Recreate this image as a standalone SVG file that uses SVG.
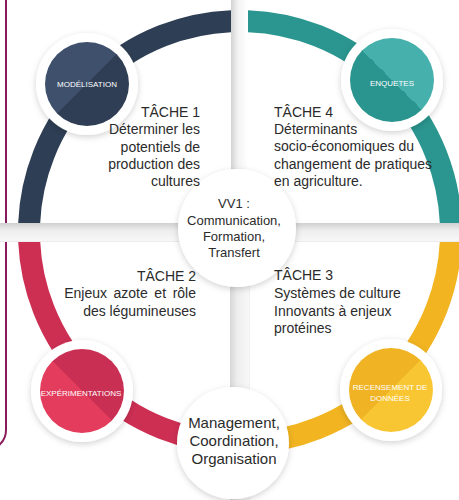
<svg xmlns="http://www.w3.org/2000/svg" width="459" height="500" viewBox="0 0 459 500">
<defs>
<style>
.ring{fill:none;stroke-width:22}
.halo{fill:#fff;filter:url(#sh)}
.lbl{font-family:"Liberation Sans",Arial,sans-serif;font-size:8px;fill:#fff;text-anchor:middle}
.txt{font-family:"Liberation Sans",Arial,sans-serif;font-size:14px;fill:#2b2b2b}
.ctr{font-family:"Liberation Sans",Arial,sans-serif;fill:#2b2b2b;text-anchor:middle}
</style>
<filter id="sh" x="-30%" y="-30%" width="160%" height="160%">
<feDropShadow dx="0" dy="2" stdDeviation="3" flood-color="#000" flood-opacity="0.18"/>
</filter>
<clipPath id="cTL"><rect x="0" y="0" width="231" height="223"/></clipPath>
<clipPath id="cTR"><rect x="248" y="0" width="211" height="223"/></clipPath>
<clipPath id="cBL"><rect x="0" y="242" width="231" height="258"/></clipPath>
<clipPath id="cBR"><rect x="248" y="242" width="211" height="258"/></clipPath>
<linearGradient id="gMod" x1="0" y1="0" x2="1" y2="1"><stop offset="0.5" stop-color="#3e506c"/><stop offset="0.5" stop-color="#2f3e55"/></linearGradient>
<linearGradient id="gEnq" x1="1" y1="0" x2="0" y2="1"><stop offset="0.5" stop-color="#45b0ac"/><stop offset="0.5" stop-color="#2a958f"/></linearGradient>
<linearGradient id="gExp" x1="1" y1="0" x2="0" y2="1"><stop offset="0.5" stop-color="#c92f52"/><stop offset="0.5" stop-color="#e33c5c"/></linearGradient>
<linearGradient id="gRec" x1="0" y1="0" x2="1" y2="1"><stop offset="0.5" stop-color="#f0b323"/><stop offset="0.5" stop-color="#f9c633"/></linearGradient>
<linearGradient id="gV" x1="0" y1="0" x2="1" y2="0"><stop offset="0" stop-color="#d2d2d2"/><stop offset="0.4" stop-color="#f2f2f2"/><stop offset="1" stop-color="#fff"/></linearGradient>
<linearGradient id="gV2" x1="0" y1="0" x2="1" y2="0"><stop offset="0" stop-color="#d6d6d6"/><stop offset="0.35" stop-color="#ededed"/><stop offset="0.95" stop-color="#f8f8f8"/><stop offset="1" stop-color="#e8e8e8"/></linearGradient>
<linearGradient id="gH" x1="0" y1="0" x2="0" y2="1"><stop offset="0" stop-color="#d0d0d0"/><stop offset="0.4" stop-color="#eeeeee"/><stop offset="0.92" stop-color="#f7f7f7"/><stop offset="1" stop-color="#e6e6e6"/></linearGradient>
</defs>
<rect width="459" height="500" fill="#fff"/>
<path d="M6,0 V430 A20,20 0 0 1 -14,450" fill="none" stroke="#8a1b5b" stroke-width="2"/>
<g id="ring">
<circle class="ring" cx="240" cy="232" r="211" stroke="#2e3e54" clip-path="url(#cTL)"/>
<circle class="ring" cx="240" cy="232" r="211" stroke="#2a968f" clip-path="url(#cTR)"/>
<circle class="ring" cx="240" cy="232" r="211" stroke="#cd2f53" clip-path="url(#cBL)"/>
<circle class="ring" cx="240" cy="232" r="211" stroke="#f2b521" clip-path="url(#cBR)"/>
</g>
<g id="gaps">
<rect x="231" y="0" width="17" height="223" fill="url(#gV)"/>
<rect x="0" y="223" width="459" height="19" fill="url(#gH)"/>
<rect x="230" y="242" width="20" height="258" fill="url(#gV2)"/>
</g>
<g id="vv1">
<circle class="halo" cx="237" cy="228" r="59"/>
<text class="ctr" font-size="13"><tspan x="234" y="208">VV1 :</tspan><tspan x="234" y="225">Communication,</tspan><tspan x="234" y="241">Formation,</tspan><tspan x="234" y="257">Transfert</tspan></text>
</g>
<g id="management">
<circle class="halo" cx="233" cy="443" r="56"/>
<text class="ctr" font-size="15"><tspan x="234" y="428">Management,</tspan><tspan x="234" y="446">Coordination,</tspan><tspan x="234" y="464">Organisation</tspan></text>
</g>
<g id="modelisation">
<circle class="halo" cx="87" cy="84" r="51"/>
<circle cx="87" cy="84" r="42" fill="url(#gMod)"/>
<text class="lbl" x="87" y="87">MODÉLISATION</text>
</g>
<g id="enquetes">
<circle class="halo" cx="392" cy="80" r="51"/>
<circle cx="392" cy="80" r="42" fill="url(#gEnq)"/>
<text class="lbl" x="392" y="86">ENQUETES</text>
</g>
<g id="experimentations">
<circle class="halo" cx="82" cy="391" r="51"/>
<circle cx="82" cy="391" r="42" fill="url(#gExp)"/>
<text class="lbl" x="81" y="396">EXPÉRIMENTATIONS</text>
</g>
<g id="recensement">
<circle class="halo" cx="391" cy="390" r="51"/>
<circle cx="391" cy="390" r="42" fill="url(#gRec)"/>
<text class="lbl" x="390" y="390">RECENSEMENT DE</text>
<text class="lbl" x="390" y="401">DONNÉES</text>
</g>
<g id="tache1">
<text class="txt" text-anchor="end"><tspan x="200" y="117">TÂCHE 1</tspan><tspan x="200" y="134">Déterminer les</tspan><tspan x="200" y="152">potentiels de</tspan><tspan x="200" y="169">production des</tspan><tspan x="200" y="186">cultures</tspan></text>
</g>
<g id="tache4">
<text class="txt"><tspan x="274" y="117">TÂCHE 4</tspan><tspan x="274" y="134">Déterminants</tspan><tspan x="274" y="151">socio-économiques du</tspan><tspan x="274" y="169">changement de pratiques</tspan><tspan x="274" y="186">en agriculture.</tspan></text>
</g>
<g id="tache2">
<text class="txt" text-anchor="end"><tspan x="196" y="281">TÂCHE 2</tspan><tspan x="196" y="298" word-spacing="2.7">Enjeux azote et rôle</tspan><tspan x="196" y="316">des légumineuses</tspan></text>
</g>
<g id="tache3">
<text class="txt"><tspan x="274" y="280">TÂCHE 3</tspan><tspan x="274" y="298">Systèmes de culture</tspan><tspan x="274" y="316">Innovants à enjeux</tspan><tspan x="274" y="333">protéines</tspan></text>
</g>
</svg>
